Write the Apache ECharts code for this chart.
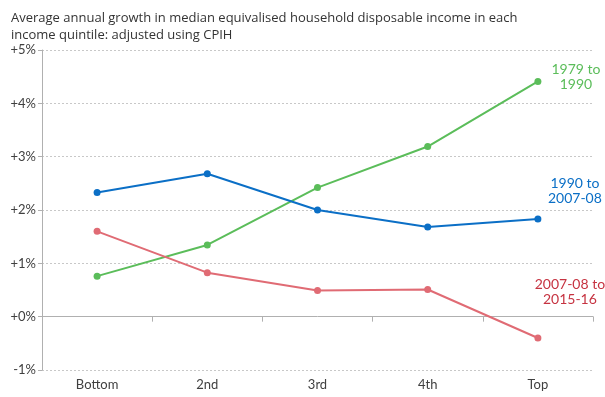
<!DOCTYPE html>
<html>
<head>
<meta charset="utf-8">
<script src="https://cdn.jsdelivr.net/npm/echarts@6/dist/echarts.min.js"></script>
<style>
  html, body { margin: 0; padding: 0; background: #fff; }
  #chart { width: 605px; height: 397px; }
</style>
</head>
<body>
<div id="chart"></div>
<script>
// 数据
const categories = ['Bottom', '2nd', '3rd', '4th', 'Top'];
const s1979 = [0.76, 1.345, 2.42, 3.19, 4.41];
const s1990 = [2.33, 2.68, 2.0, 1.68, 1.83];
const s2007 = [1.6, 0.825, 0.49, 0.51, -0.4];
const seriesNames = ['1979 to\n1990', '1990 to\n2007-08', '2007-08 to\n2015-16'];

const lineColors = ['#5bbd5a', '#0b6fc6', '#e06b74'];
const labelColors = ['#5bbd5a', '#0b6fc6', '#c63341'];
const labelOffsets = [[38, -4], [37, -28], [32, -46]]; //末端文字相对最后一点的偏移

const chart = echarts.init(document.getElementById('chart'), null, { renderer: 'canvas' });

function makeSeries(name, data, i) {
  return {
    type: 'line',
    name: name,
    data: data.map((v, k) => {
      if (k !== data.length - 1) return v;
      return {
        value: v,
        label: {
          show: true,
          position: 'inside',
          offset: labelOffsets[i],
          formatter: name,
          color: labelColors[i],
          fontFamily: 'Lato',
          fontSize: 14,
          lineHeight: 15,
          align: 'center',
          verticalAlign: 'middle',
        },
      };
    }),
    symbol: 'circle',
    symbolSize: 7,
    lineStyle: { color: lineColors[i], width: 2 },
    itemStyle: { color: lineColors[i] },
    emphasis: { disabled: true },
    animation: false,
  };
}

chart.setOption({
  title: {
    text: 'Average annual growth in median equivalised household disposable income in each\nincome quintile: adjusted using CPIH',
    left: 6,
    top: 5,
    textStyle: {
      fontFamily: 'Open Sans',
      fontSize: 13,
      fontWeight: 'normal',
      color: '#333',
      lineHeight: 17,
    },
  },
  grid: { left: 42, right: 12, top: 50, bottom: 27, containLabel: false },
  xAxis: [
    {
      type: 'category',
      data: categories,
      position: 'bottom',
      axisLine: { show: false, onZero: false },
      axisTick: { show: false },
      axisLabel: { color: '#404040', fontFamily: 'Lato', fontSize: 13, margin: 8 },
    },
    {
      type: 'category',
      data: categories,
      position: 'top',
      axisLine: { show: true, onZero: true, lineStyle: { color: '#b0b0b0', width: 1 } },
      axisTick: { show: true, inside: true, length: 5, lineStyle: { color: '#b0b0b0' } },
      axisLabel: { show: false },
    },
  ],
  yAxis: {
    type: 'value',
    min: -1,
    max: 5,
    interval: 1,
    axisLine: { show: true, lineStyle: { color: '#b0b0b0' } },
    axisTick: { show: true, length: 4, lineStyle: { color: '#b0b0b0' } },
    axisLabel: {
      color: '#404040',
      fontFamily: 'Lato',
      fontSize: 13,
      margin: 6,
      formatter: v => (v < 0 ? v : '+' + v) + '%',
    },
    splitLine: { show: true, lineStyle: { color: '#c8c8c8', type: [2, 2], width: 1 } },
  },
  series: [
    makeSeries(seriesNames[0], s1979, 0),
    makeSeries(seriesNames[1], s1990, 1),
    makeSeries(seriesNames[2], s2007, 2),
  ],
});
</script>
</body>
</html>
